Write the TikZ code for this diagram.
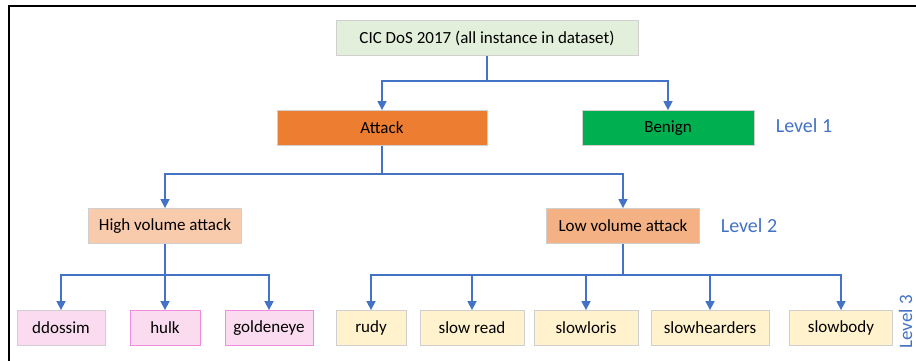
\documentclass[tikz,border=0pt]{standalone}
\usepackage{fontspec}
\setmainfont{Carlito}
\usepackage{xcolor}
\usetikzlibrary{arrows.meta}

\definecolor{rootgreen}{HTML}{E2EFDA}
\definecolor{attackorange}{HTML}{ED7D31}
\definecolor{benigngreen}{HTML}{00B050}
\definecolor{highpeach}{HTML}{F8CBAD}
\definecolor{lowpeach}{HTML}{F4B183}
\definecolor{highpink}{HTML}{FADBF0}
\definecolor{pinkedge}{HTML}{F08CDC}
\definecolor{lowyellow}{HTML}{FFF2CC}
\definecolor{boxedge}{HTML}{D0CECE}
\definecolor{linkblue}{HTML}{4472C4}

\tikzset{
  classbox/.style={draw=boxedge, line width=0.8pt, minimum height=35pt, inner sep=0pt, font=\fontsize{17}{20}\selectfont},
  leafbox/.style={classbox, minimum height=35pt},
  conn/.style={draw=linkblue, line width=1.5pt, -{Triangle[width=9pt,length=9pt]}},
  levellabel/.style={text=linkblue, font=\fontsize{20}{24}\selectfont}
}

\begin{document}
\begin{tikzpicture}[x=1pt, y=-1pt]
  \useasboundingbox (0,0) rectangle (916,360);

  % Frame
  \draw[line width=2pt] (9,362) -- (9,6) -- (918,6);

  % Level 0 and level 1
  \node[classbox, fill=rootgreen, minimum width=302pt] (root) at (487,38) {CIC DoS 2017 (all instance in dataset)};
  \node[classbox, fill=attackorange, minimum width=210pt] (attack) at (382,128) {Attack};
  \node[classbox, fill=benigngreen, minimum width=172pt] (benign) at (668,128) {Benign};
  \node[levellabel] (lvlone) at (804,126) {Level 1};

  % Level 2
  \node[classbox, fill=highpeach, minimum width=153pt] (high) at (165,226) {High volume attack};
  \node[classbox, fill=lowpeach, minimum width=153pt] (low) at (623,226) {Low volume attack};
  \node[levellabel] (lvltwo) at (749,226) {Level 2};

  % Level 3
  \node[leafbox, fill=highpink, minimum width=88pt] (ddossim) at (61,328) {ddossim};
  \node[leafbox, fill=highpink, draw=pinkedge, minimum width=70pt] (hulk) at (165,328) {hulk};
  \node[leafbox, fill=highpink, draw=pinkedge, minimum width=88pt] (goldeneye) at (269,328) {goldeneye};
  \node[leafbox, fill=lowyellow, minimum width=70pt] (rudy) at (371,328) {rudy};
  \node[leafbox, fill=lowyellow, minimum width=104pt] (slowread) at (472,328) {slow read};
  \node[leafbox, fill=lowyellow, minimum width=104pt] (slowloris) at (586,328) {slowloris};
  \node[leafbox, fill=lowyellow, minimum width=118pt] (slowhearders) at (710,328) {slowhearders};
  \node[leafbox, fill=lowyellow, minimum width=103pt] (slowbody) at (841,328) {slowbody};
  \node[levellabel, font=\fontsize{19}{22}\selectfont, rotate=90, anchor=base, inner sep=0pt] (lvlthree) at (912,322) {Level 3};

  % Bus points
  \coordinate (rootbus) at (487,81);
  \coordinate (attackbus) at (382,174);
  \coordinate (highbus) at (165,275);
  \coordinate (lowbus) at (623,275);

  % Connectors
  \draw[line width=1.5pt, draw=linkblue] (root) -- (rootbus);
  \draw[conn] (rootbus) -| (attack);
  \draw[conn] (rootbus) -| (benign);
  \draw[line width=1.5pt, draw=linkblue] (attack) -- (attackbus);
  \draw[conn] (attackbus) -| (high);
  \draw[conn] (attackbus) -| (low);
  \draw[line width=1.5pt, draw=linkblue] (high) -- (highbus);
  \foreach \leaf in {ddossim, hulk, goldeneye}
    \draw[conn] (highbus) -| (\leaf);
  \draw[line width=1.5pt, draw=linkblue] (low) -- (lowbus);
  \foreach \leaf in {rudy, slowread, slowloris, slowhearders, slowbody}
    \draw[conn] (lowbus) -| (\leaf);
\end{tikzpicture}
\end{document}
